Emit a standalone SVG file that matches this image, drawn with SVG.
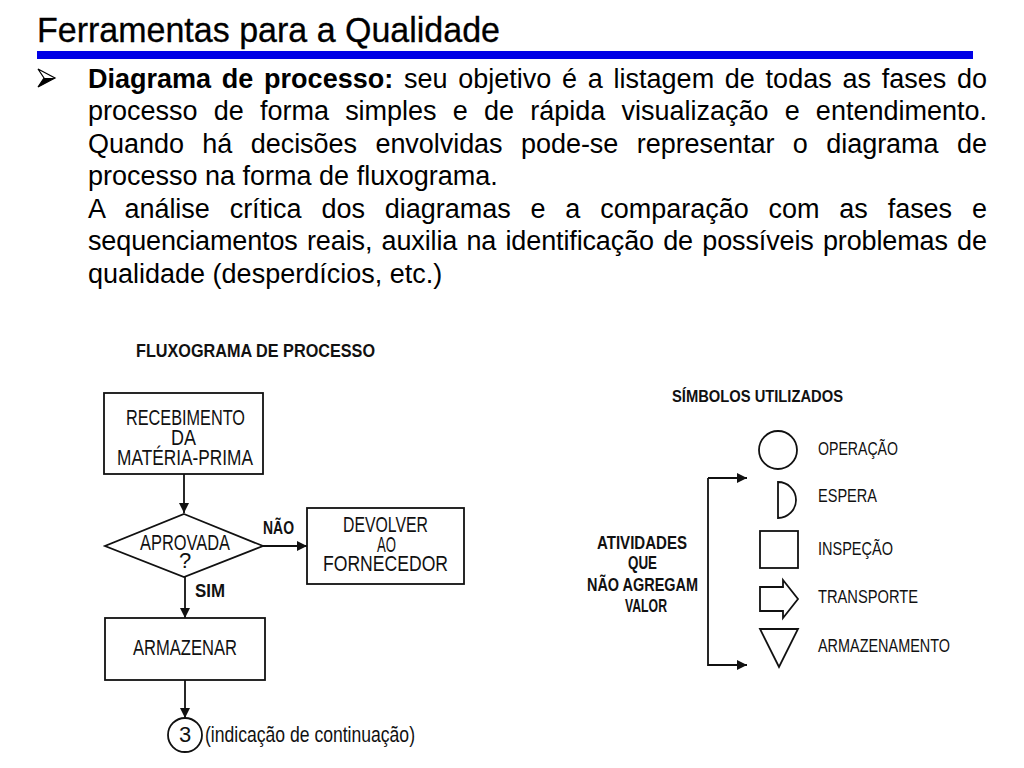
<svg xmlns="http://www.w3.org/2000/svg" width="1024" height="768" viewBox="0 0 1024 768">
<style>
.title{font-family:"Liberation Sans",Arial,sans-serif;font-size:35px;fill:#000;stroke:#000;stroke-width:0.3}
.body{font-family:"Liberation Sans",Arial,sans-serif;font-size:27px;fill:#000}
.b{font-weight:bold}
.lbl{font-family:"Liberation Sans",Arial,sans-serif;font-size:22px;fill:#111}
.sm{font-family:"Liberation Sans",Arial,sans-serif;font-size:18px;fill:#111}
.hd{font-family:"Liberation Sans",Arial,sans-serif;font-size:18px;font-weight:bold;fill:#111}
.shape{fill:#fff;stroke:#111;stroke-width:1.8}
.conn{fill:none;stroke:#111;stroke-width:1.8}
</style>
<defs>
<marker id="ah" viewBox="0 0 10 10" refX="10" refY="5" markerWidth="10" markerHeight="10" markerUnits="userSpaceOnUse" orient="auto">
<path d="M0,0 L10,5 L0,10 Z" fill="#111"/>
</marker>
</defs>
<rect width="1024" height="768" fill="#fff"/>

<g id="header">
<text class="title" x="37" y="42" textLength="463" lengthAdjust="spacingAndGlyphs">Ferramentas para a Qualidade</text>
<rect x="37" y="51" width="936" height="8" fill="#0000e6"/>
</g>

<g id="bullet-text">
<polygon points="38,69 55,78 38,87 44,78" fill="#fff" stroke="#000" stroke-width="1.2"/>
<polygon points="44,78 55,78 38,87" fill="#000"/>
<text class="body" x="88" y="88" word-spacing="3.2" textLength="899" lengthAdjust="spacing"><tspan class="b">Diagrama de processo:</tspan> seu objetivo é a listagem de todas as fases do</text>
<text class="body" x="88" y="120" word-spacing="8.7" textLength="899" lengthAdjust="spacing">processo de forma simples e de rápida visualização e entendimento.</text>
<text class="body" x="88" y="153" word-spacing="11" textLength="899" lengthAdjust="spacing">Quando há decisões envolvidas pode-se representar o diagrama de</text>
<text class="body" x="88" y="185">processo na forma de fluxograma.</text>
<text class="body" x="88" y="218" word-spacing="12.4" textLength="899" lengthAdjust="spacing">A análise crítica dos diagramas e a comparação com as fases e</text>
<text class="body" x="88" y="250" word-spacing="1.9" textLength="899" lengthAdjust="spacing">sequenciamentos reais, auxilia na identificação de possíveis problemas de</text>
<text class="body" x="88" y="283">qualidade (desperdícios, etc.)</text>
</g>

<g id="flow-title">
<text class="hd" x="136" y="357" textLength="239" lengthAdjust="spacingAndGlyphs" style="font-size:19px">FLUXOGRAMA DE PROCESSO</text>
</g>

<g id="connectors">
<line class="conn" x1="184" y1="474" x2="184" y2="513" marker-end="url(#ah)"/>
<line class="conn" x1="263" y1="546" x2="307" y2="546" marker-end="url(#ah)"/>
<line class="conn" x1="185" y1="577" x2="185" y2="618" marker-end="url(#ah)"/>
<line class="conn" x1="185" y1="680" x2="185" y2="718" marker-end="url(#ah)"/>
<polyline class="conn" points="708,478 708,665 747,665" marker-end="url(#ah)"/>
<line class="conn" x1="708" y1="478" x2="747" y2="478" marker-end="url(#ah)"/>
</g>

<g id="n-recebimento">
<rect class="shape" x="104" y="393" width="159" height="81"/>
<text class="lbl" x="126" y="425" textLength="119" lengthAdjust="spacingAndGlyphs">RECEBIMENTO</text>
<text class="lbl" x="171" y="445" textLength="25" lengthAdjust="spacingAndGlyphs">DA</text>
<text class="lbl" x="117" y="465" textLength="136" lengthAdjust="spacingAndGlyphs">MATÉRIA-PRIMA</text>
</g>

<g id="n-aprovada">
<polygon class="shape" points="184,514 263,546 184,577 105,546"/>
<text class="lbl" x="140" y="550" textLength="90" lengthAdjust="spacingAndGlyphs">APROVADA</text>
<text class="lbl" x="185" y="568" text-anchor="middle">?</text>
<text class="hd" x="263" y="534" textLength="31" lengthAdjust="spacingAndGlyphs">NÃO</text>
<text class="hd" x="195" y="597" textLength="30" lengthAdjust="spacingAndGlyphs">SIM</text>
</g>

<g id="n-devolver">
<rect class="shape" x="307" y="508" width="157" height="76"/>
<text class="lbl" x="343" y="532" textLength="85" lengthAdjust="spacingAndGlyphs">DEVOLVER</text>
<text class="lbl" x="377" y="552" textLength="19" lengthAdjust="spacingAndGlyphs">AO</text>
<text class="lbl" x="323" y="571" textLength="125" lengthAdjust="spacingAndGlyphs">FORNECEDOR</text>
</g>

<g id="n-armazenar">
<rect class="shape" x="105" y="618" width="160" height="62"/>
<text class="lbl" x="133" y="655" textLength="104" lengthAdjust="spacingAndGlyphs">ARMAZENAR</text>
</g>

<g id="n-continuacao">
<circle class="shape" cx="185" cy="735" r="17"/>
<text class="lbl" x="185" y="742" text-anchor="middle">3</text>
<text class="lbl" x="205" y="742" textLength="210" lengthAdjust="spacingAndGlyphs">(indicação de continuação)</text>
</g>

<g id="symbols-title">
<text class="hd" x="672" y="402" textLength="171" lengthAdjust="spacingAndGlyphs" style="font-size:17px">SÍMBOLOS UTILIZADOS</text>
</g>

<g id="s-operacao">
<circle class="shape" cx="778" cy="450" r="19"/>
<text class="sm" x="818" y="455" textLength="80" lengthAdjust="spacingAndGlyphs">OPERAÇÃO</text>
</g>
<g id="s-espera">
<path class="shape" d="M778,482 A18,18 0 0 1 778,518 Z"/>
<text class="sm" x="818" y="502" textLength="59" lengthAdjust="spacingAndGlyphs">ESPERA</text>
</g>
<g id="s-inspecao">
<rect class="shape" x="760" y="531" width="38" height="37"/>
<text class="sm" x="818" y="555" textLength="75" lengthAdjust="spacingAndGlyphs">INSPEÇÃO</text>
</g>
<g id="s-transporte">
<polygon class="shape" points="760,587 783,587 783,580 798,599 783,618 783,611 760,611"/>
<text class="sm" x="818" y="603" textLength="100" lengthAdjust="spacingAndGlyphs">TRANSPORTE</text>
</g>
<g id="s-armazenamento">
<polygon class="shape" points="760,629 798,629 779,667"/>
<text class="sm" x="818" y="652" textLength="132" lengthAdjust="spacingAndGlyphs">ARMAZENAMENTO</text>
</g>

<g id="n-atividades">
<text class="hd" x="597" y="549" textLength="90" lengthAdjust="spacingAndGlyphs">ATIVIDADES</text>
<text class="hd" x="628" y="569" textLength="29" lengthAdjust="spacingAndGlyphs">QUE</text>
<text class="hd" x="587" y="591" textLength="111" lengthAdjust="spacingAndGlyphs">NÃO AGREGAM</text>
<text class="hd" x="625" y="612" textLength="42" lengthAdjust="spacingAndGlyphs">VALOR</text>
</g>
</svg>
